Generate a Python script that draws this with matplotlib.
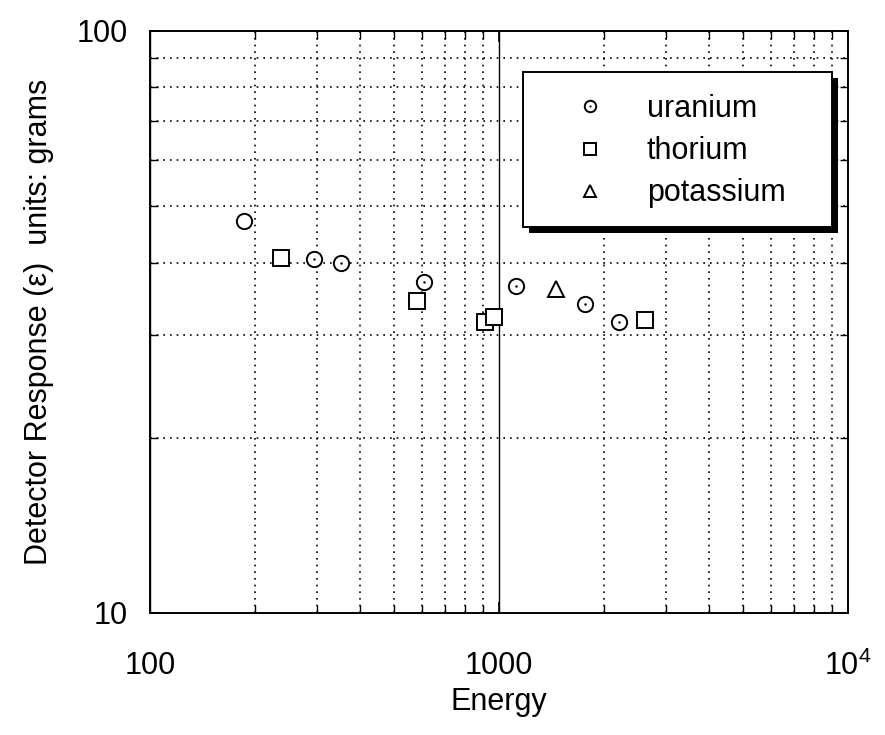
import matplotlib
matplotlib.use('Agg')
import matplotlib.pyplot as plt
from matplotlib.patches import Rectangle
from matplotlib.legend_handler import HandlerTuple
from matplotlib.ticker import FixedLocator, NullFormatter, LogLocator

plt.rcParams['font.family'] = ['Liberation Sans', 'DejaVu Sans']
plt.rcParams['mathtext.fontset'] = 'custom'
plt.rcParams['mathtext.rm'] = 'Liberation Sans'

# data (energy in keV, detector response)
uranium_energy = [186, 295, 352, 609, 1120, 1764, 2204]
uranium_resp = [47.1, 40.5, 39.9, 37.1, 36.5, 34.0, 31.6]
uranium_dot = [False, True, True, True, True, True, True]
thorium_energy = [238, 583, 911, 969, 2614]
thorium_resp = [40.8, 34.4, 31.6, 32.2, 31.9]
potassium_energy = [1461]
potassium_resp = [36.0]

x_ticks = [100, 1000, 10000]
x_tick_labels = ['100', '1000', r'$\mathregular{10^4}$']
y_ticks = [10, 100]
y_tick_labels = ['10', '100']
legend_labels = ['uranium', 'thorium', 'potassium']

W, H = 885, 735
fig = plt.figure(figsize=(W / 100, H / 100), dpi=100)
ax = fig.add_axes([150 / W, 1 - 613 / H, 698 / W, 582 / H])

ms = 11
circ, = ax.plot(uranium_energy, uranium_resp, 'o', ms=ms, mfc='white', mec='black', mew=1.4, ls='none', zorder=3)
dots = [e for e, d in zip(uranium_energy, uranium_dot) if d]
dot_r = [r for r, d in zip(uranium_resp, uranium_dot) if d]
dot, = ax.plot(dots, dot_r, '.', ms=1.5, color='black', ls='none', zorder=4)
sq, = ax.plot(thorium_energy, thorium_resp, 's', ms=ms, mfc='white', mec='black', mew=1.4, ls='none', zorder=3)
tri, = ax.plot(potassium_energy, potassium_resp, '^', ms=ms, mfc='white', mec='black', mew=1.4, ls='none', zorder=3)

ax.set_xscale('log')
ax.set_yscale('log')
ax.set_xlim(100, 10000)
ax.set_ylim(10, 100)

ax.xaxis.set_major_locator(FixedLocator(x_ticks))
ax.set_xticklabels(x_tick_labels)
ax.yaxis.set_major_locator(FixedLocator(y_ticks))
ax.set_yticklabels(y_tick_labels)
ax.xaxis.set_minor_locator(LogLocator(base=10, subs=range(2, 10)))
ax.yaxis.set_minor_locator(LogLocator(base=10, subs=range(2, 10)))
ax.xaxis.set_minor_formatter(NullFormatter())
ax.yaxis.set_minor_formatter(NullFormatter())

ax.grid(True, which='minor', ls=(0, (1, 3)), color='black', lw=1.2)
ax.grid(True, which='major', axis='x', ls='-', color='black', lw=1.0)

ax.tick_params(which='both', direction='in', top=True, right=True, labelsize=22)
ax.tick_params(which='major', length=8, width=1.2)
ax.tick_params(which='minor', length=6, width=1.0)
ax.tick_params(axis='x', pad=27)
ax.tick_params(axis='y', pad=16)
for s in ax.spines.values():
    s.set_linewidth(1.4)

ax.set_xlabel('Energy', fontsize=22, labelpad=4)
ax.set_ylabel('Detector Response (ε)  units: grams', fontsize=22)
ax.yaxis.set_label_coords(-0.137, 0.5)
ax.yaxis.label.set_va('bottom')

# legend box with heavy drop shadow (pixel positions from the picture)
shadow = Rectangle((529 / W, 1 - 233 / H), 309 / W, 155 / H, transform=fig.transFigure,
                   facecolor='black', edgecolor='none', zorder=8)
box = Rectangle((523 / W, 1 - 227 / H), 309 / W, 155 / H, transform=fig.transFigure,
                facecolor='white', edgecolor='black', lw=1.4, zorder=9)
ax.add_patch(shadow)
ax.add_patch(box)
shadow.set_clip_on(False)
box.set_clip_on(False)

leg = ax.legend([(circ, dot), sq, tri], legend_labels,
                handler_map={tuple: HandlerTuple(ndivide=1)},
                loc='upper left', bbox_to_anchor=(560 / W, 1 - 94 / H),
                bbox_transform=fig.transFigure, markerscale=0.75,
                fontsize=22, frameon=False, borderpad=0, labelspacing=0.4,
                handlelength=1.96, handletextpad=0.88, borderaxespad=0)
leg.set_zorder(10)

fig.savefig('out.png', dpi=100)
